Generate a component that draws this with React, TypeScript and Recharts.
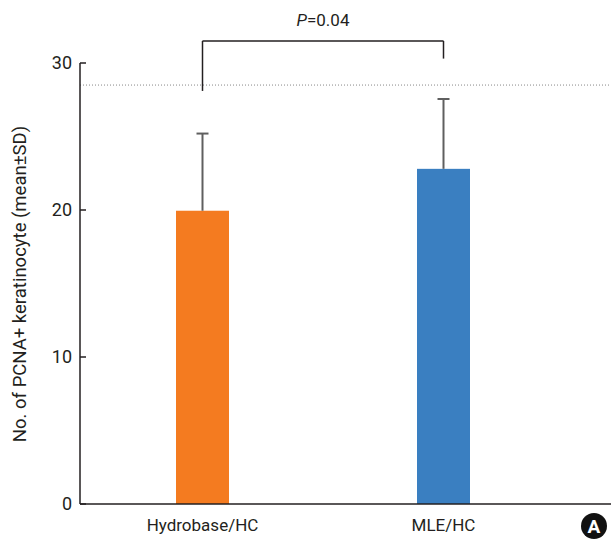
import React from 'react';
import {
  ComposedChart, Bar, Cell, XAxis, YAxis, ReferenceLine, Label,
} from 'recharts';

const groups = ['Hydrobase/HC', 'MLE/HC'];
const means = [19.95, 22.8];
const sds = [5.25, 4.75];
const barColors = ['#F47B20', '#3A7FC1'];
const yTicks = [0, 10, 20, 30];
const refLevel = 28.5;
const pLabel = '0.04';

const data = groups.map((g, i) => ({ group: g, mean: means[i], sd: sds[i] }));

const FONT = "'Liberation Sans Narrow', 'Roboto', sans-serif";
const INK = '#231f20';

// bar + upper-only error whisker, scaled off the bar's own pixel height
function BarWithSd(props: any) {
  const { x, y, width, height, fill, payload } = props;
  const k = height / payload.mean;
  const top = y - payload.sd * k;
  const cx = x + width / 2;
  return (
    <g>
      <rect x={x} y={y} width={width} height={height} fill={fill} />
      <line x1={cx} x2={cx} y1={y} y2={top} stroke="#5f5f5f" strokeWidth={2} />
      <line x1={cx - 6} x2={cx + 6} y1={top} y2={top} stroke="#5f5f5f" strokeWidth={2} />
    </g>
  );
}

export default function App() {
  return (
    <div style={{ position: 'relative', width: 611, height: 541, background: '#fff' }}>
      <style>{'body{margin:0}'}</style>
      <ComposedChart
        width={611}
        height={541}
        data={data}
        margin={{ top: 63, right: 0, bottom: 7, left: 30 }}
      >
        <XAxis
          dataKey="group"
          tickLine={false}
          axisLine={{ stroke: INK, strokeWidth: 1.5 }}
          padding={{ left: 2, right: 47 }}
          height={30}
          tickMargin={9}
          tick={{ fill: INK, fontSize: 17, fontFamily: FONT }}
        />
        <YAxis
          domain={[0, 30]}
          ticks={yTicks}
          width={50}
          tickSize={-6}
          tickMargin={14}
          axisLine={{ stroke: INK, strokeWidth: 1.5 }}
          tickLine={{ stroke: INK, strokeWidth: 1.5 }}
          tick={{ fill: INK, fontSize: 18, fontFamily: FONT }}
        >
          <Label
            content={() => (
              <text
                x={20}
                y={284}
                transform="rotate(-90, 20, 284)"
                textAnchor="middle"
                dominantBaseline="central"
                fill={INK}
                fontSize={18.5}
                fontFamily={FONT}
              >
                No. of PCNA+ keratinocyte (mean±SD)
              </text>
            )}
          />
        </YAxis>
        <ReferenceLine y={refLevel} stroke="#888" strokeDasharray="1 2" strokeWidth={1} />
        <Bar dataKey="mean" barSize={53} isAnimationActive={false} shape={BarWithSd}>
          {data.map((_, i) => (
            <Cell key={i} fill={barColors[i]} />
          ))}
        </Bar>
        {/* significance bracket */}
        <ReferenceLine
          segment={[{ x: groups[0], y: 31.5 }, { x: groups[1], y: 31.5 }]}
          stroke={INK}
          strokeWidth={1.5}
          ifOverflow="visible"
        >
          <Label
            content={(p: any) => {
              const vb = p.viewBox || {};
              return (
                <text
                  x={vb.x + vb.width / 2}
                  y={vb.y - 15}
                  textAnchor="middle"
                  fill={INK}
                  fontSize={17}
                  fontFamily={FONT}
                >
                  <tspan fontStyle="italic">P</tspan>={pLabel}
                </text>
              );
            }}
          />
        </ReferenceLine>
        <ReferenceLine
          segment={[{ x: groups[0], y: 31.5 }, { x: groups[0], y: 28.1 }]}
          stroke={INK}
          strokeWidth={1.5}
          ifOverflow="visible"
        />
        <ReferenceLine
          segment={[{ x: groups[1], y: 31.5 }, { x: groups[1], y: 30.3 }]}
          stroke={INK}
          strokeWidth={1.5}
          ifOverflow="visible"
        />
      </ComposedChart>
      <div
        style={{
          position: 'absolute', left: 581, top: 513, width: 26, height: 26,
          borderRadius: '50%', background: '#111', color: '#fff',
          fontFamily: FONT, fontWeight: 'bold', fontSize: 19,
          display: 'flex', alignItems: 'center', justifyContent: 'center',
        }}
      >
        A
      </div>
    </div>
  );
}
